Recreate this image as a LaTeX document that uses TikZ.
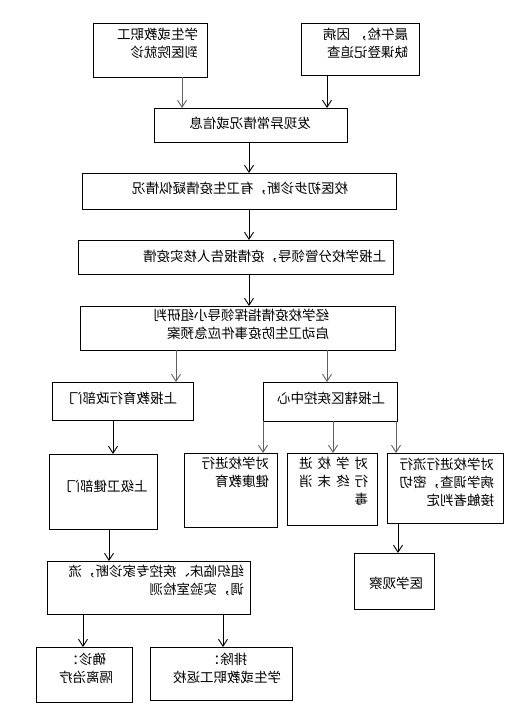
\documentclass[tikz,border=0pt]{standalone}
\usepackage{fontspec}
\newfontfamily\cjk{Noto Sans CJK SC}
\usetikzlibrary{arrows.meta}
\newcommand{\mtxt}[2][l]{\reflectbox{\begin{tabular}{@{}#1@{}}#2\end{tabular}}}
\begin{document}
\begin{tikzpicture}[x=1pt,y=-1pt,
  box/.style={draw=black, line width=0.9pt, inner sep=0pt, outer sep=0pt},
  txt/.style={inner sep=0pt, outer sep=0pt, font=\cjk\fontsize{13.5}{18}\selectfont},
  arr/.style={line width=0.9pt, draw=black, -{Straight Barb[length=7pt,width=9pt,line width=0.9pt]}},
  arrg/.style={arr, draw=black!62}]
\useasboundingbox (0,0) rectangle (517,708);
\fill[white] (0,0) rectangle (517,708);

% boxes
\node[box, minimum width=114pt, minimum height=54pt] (A) at (150,50) {};
\node[box, minimum width=118pt, minimum height=52pt] (B) at (360,49) {};
\node[box, minimum width=193pt, minimum height=34pt] (C) at (250.5,125) {};
\node[box, minimum width=314pt, minimum height=36pt] (D) at (239,191) {};
\node[box, minimum width=315pt, minimum height=34pt] (E) at (235.5,257) {};
\node[box, minimum width=315pt, minimum height=44pt] (F) at (237.5,328) {};
\node[box, minimum width=141pt, minimum height=38pt] (G) at (122.5,401) {};
\node[box, minimum width=134pt, minimum height=39pt] (H) at (330,401.5) {};
\node[box, minimum width=108pt, minimum height=75pt] (I) at (103,491.5) {};
\node[box, minimum width=93pt, minimum height=74pt] (J) at (230.5,490) {};
\node[box, minimum width=90pt, minimum height=72pt] (K) at (332,489) {};
\node[box, minimum width=116pt, minimum height=70pt] (L) at (445,488) {};
\node[box, minimum width=80pt, minimum height=56pt] (M) at (394,581) {};
\node[box, minimum width=203pt, minimum height=53pt] (N) at (148.5,587.5) {};
\node[box, minimum width=96pt, minimum height=55pt] (O) at (84,674.5) {};
\node[box, minimum width=142pt, minimum height=53pt] (P) at (221,673.5) {};

% texts (mirrored as in the reference)
\node[txt, anchor=east] (tA) at (198,45) {\mtxt{学生或教职工\\到医院就诊}};
\node[txt, anchor=east] (tB) at (408,45) {\mtxt{晨午检，\hspace{4pt}因病\\缺课登记追查}};
\node[txt] (tC) at (250,123) {\reflectbox{发现异常情况或信息}};
\node[txt] (tD) at (240,189) {\reflectbox{校医初步诊断，有卫生疫情疑似情况}};
\node[txt, anchor=east] (tE) at (386,256) {\reflectbox{上报学校分管领导，疫情报告人核实疫情}};
\node[txt, anchor=east] (tF) at (329,326) {\mtxt{经学校疫情指挥领导小组研判\\启动卫生防疫事件应急预案}};
\node[txt] (tG) at (123,398) {\reflectbox{上报教育行政部门}};
\node[txt] (tH) at (331,398) {\reflectbox{上报辖区疾控中心}};
\node[txt] (tI) at (107,486) {\reflectbox{上级卫健部门}};
\node[txt, anchor=east] (tJ) at (269,474) {\mtxt{对学校进行\\健康教育}};
\node[txt, anchor=east] (tK) at (368,483) {\mtxt{对\hspace{5pt}学\hspace{5pt}校\hspace{5pt}进\\行\hspace{5pt}终\hspace{5pt}末\hspace{5pt}消\\毒}};
\node[txt, anchor=east] (tL) at (494,484) {\mtxt{对学校进行流行\\病学调查，密切\\接触者判定}};
\node[txt] (tM) at (396,583) {\reflectbox{医学观察}};
\node[txt, anchor=east] (tN) at (244,582) {\mtxt{组织临床、疾控专家诊断，流\\调，实验室检测}};
\node[txt, anchor=east] (tO) at (113,670) {\mtxt{\hspace{7pt}确诊：\\隔离治疗}};
\node[txt] (tP) at (227,670) {\mtxt[c]{排除：\\学生或教职工返校}};

% connectors
\draw[arrg] ([xshift=32]A.south) -- ([xshift=32]A.south |- C.north);
\draw[arr]  ([xshift=-33]B.south) -- ([xshift=-33]B.south |- C.north);
\draw[arr]  ([xshift=-1.5]C.south) -- ([xshift=-1.5]C.south |- D.north);
\draw[arr]  ([xshift=10]D.south) -- ([xshift=10]D.south |- E.north);
\draw[arr]  ([xshift=13.5]E.south) -- ([xshift=13.5]E.south |- F.north);
\draw[arrg] ([xshift=-61.5]F.south) -- ([xshift=-61.5]F.south |- G.north);
\draw[arrg] ([xshift=89.5]F.south) -- ([xshift=89.5]F.south |- H.north);
\draw[arr]  ([xshift=-9.5]G.south) -- ([xshift=-9.5]G.south |- I.north);
\draw[arrg] ([xshift=-67]H.south) -- ([xshift=-67]H.south |- J.north);
\draw[arrg] ([xshift=3]H.south) -- ([xshift=3]H.south |- K.north);
\draw[arrg] ([xshift=66]H.south) -- ([xshift=66]H.south |- L.north);
\draw[arr]  ([xshift=-47]L.south) -- ([xshift=-47]L.south |- M.north);
\draw[arr]  ([xshift=6]I.south) -- ([xshift=6]I.south |- N.north);
\draw[arr]  ([xshift=-65.5]N.south) -- ([xshift=-65.5]N.south |- O.north);
\draw[arr]  ([xshift=74.5]N.south) -- ([xshift=74.5]N.south |- P.north);
\end{tikzpicture}
\end{document}
